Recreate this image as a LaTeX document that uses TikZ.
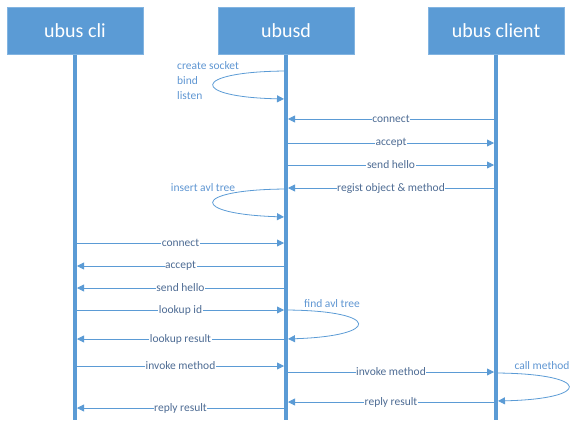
\documentclass[tikz,border=0pt]{standalone}
\usepackage{fontspec}
\setmainfont{Carlito}
\usetikzlibrary{arrows.meta}

\definecolor{boxblue}{RGB}{91,155,213}
\definecolor{boxedge}{RGB}{130,180,225}
\definecolor{msgtext}{RGB}{78,108,148}
\definecolor{looptext}{RGB}{95,150,210}

\tikzset{
  actor/.style = {draw=boxedge, fill=boxblue, text=white, minimum width=136pt,
                  minimum height=47pt, font=\fontsize{20}{24}\selectfont},
  lifeline/.style = {draw=boxblue, line width=4pt},
  msg/.style = {draw=boxblue, line width=0.8pt, -{Triangle[length=7pt,width=7pt]},
                shorten >=2pt, shorten <=2pt},
  msglabel/.style = {fill=white, inner sep=0.6pt, text=msgtext,
                     font=\fontsize{11.5}{14}\selectfont},
  looplabel/.style = {text=looptext, inner sep=0pt, font=\fontsize{11.5}{15}\selectfont}
}

% one message between two lifelines at height #3
\newcommand{\msgline}[4]{\draw[msg] (#1 |- 0,#3) -- node[msglabel] {#4} (#2 |- 0,#3);}

\begin{document}
\begin{tikzpicture}[x=1pt, y=-1pt]
  \useasboundingbox (0,0) rectangle (580,420);

  % actors
  \node[actor] (cli) at (75,31) {ubus cli};
  \node[actor] (ubusd) at (286,31) {ubusd};
  \node[actor] (client) at (496,31) {ubus client};

  % lifelines
  \coordinate (cliend) at (cli.south |- 0,420);
  \coordinate (ubusdend) at (ubusd.south |- 0,420);
  \coordinate (clientend) at (client.south |- 0,420);
  \draw[lifeline] (cli.south) -- (cliend);
  \draw[lifeline] (ubusd.south) -- (ubusdend);
  \draw[lifeline] (client.south) -- (clientend);

  % ubusd start up
  \node[looplabel, anchor=north west, align=left] (setup) at (177,61) {create socket\\bind\\listen};
  \draw[msg] (ubusd.south |- 0,71) .. controls (190,72) and (190,97) .. (ubusd.south |- 0,99);

  % ubus client registers
  \msgline{client}{ubusd}{119}{connect}
  \msgline{ubusd}{client}{143}{accept}
  \msgline{ubusd}{client}{165}{send hello}
  \msgline{client}{ubusd}{188}{regist object \& method}
  \node[looplabel] (insert) at (203,188) {insert avl tree};
  \draw[msg] (ubusd.south |- 0,189) .. controls (190,190) and (190,214) .. (ubusd.south |- 0,217);

  % ubus cli calls
  \msgline{cli}{ubusd}{243}{connect}
  \msgline{ubusd}{cli}{266}{accept}
  \msgline{ubusd}{cli}{288}{send hello}
  \msgline{cli}{ubusd}{310}{lookup id}
  \node[looplabel] (find) at (332,304) {find avl tree};
  \draw[msg] (ubusd.south |- 0,310) .. controls (381,311) and (381,336) .. (ubusd.south |- 0,339);
  \msgline{ubusd}{cli}{339}{lookup result}
  \msgline{cli}{ubusd}{366}{invoke method}
  \msgline{ubusd}{client}{372}{invoke method}
  \node[looplabel] (call) at (542,366) {call method};
  \draw[msg] (client.south |- 0,373) .. controls (592,374) and (592,399) .. (client.south |- 0,401);
  \msgline{client}{ubusd}{402}{reply result}
  \msgline{ubusd}{cli}{408}{reply result}
\end{tikzpicture}
\end{document}
